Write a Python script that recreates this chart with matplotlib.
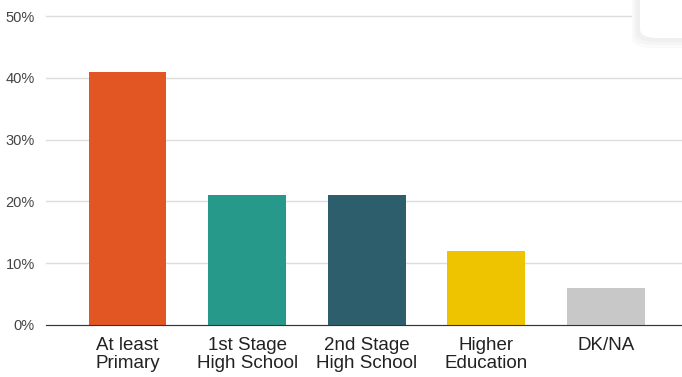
import matplotlib.pyplot as plt
from matplotlib.patches import FancyBboxPatch
from matplotlib.ticker import PercentFormatter

plt.rcParams['font.family'] = ['Liberation Sans', 'DejaVu Sans']

# data
categories = ['At least\nPrimary', '1st Stage\nHigh School', '2nd Stage\nHigh School',
              'Higher\nEducation', 'DK/NA']
shares = [41, 21, 21, 12, 6]
colors = ['#E15622', '#26998B', '#2D5E6B', '#EEC300', '#C8C8C8']

W, H = 682, 377
fig = plt.figure(figsize=(W / 100, H / 100), dpi=100)
ax = fig.add_axes([46 / W, 52 / H, (W - 46) / W, (325 - 16) / H])

x = range(len(categories))
ax.bar(x, shares, width=0.65, color=colors, zorder=3)

ax.set_ylim(0, 50)
ax.set_yticks([0, 10, 20, 30, 40, 50])
ax.yaxis.set_major_formatter(PercentFormatter(decimals=0))
ax.set_xlim(-0.681, 4.636)
ax.set_xticks(list(x))
ax.set_xticklabels(categories, fontsize=13.5, color='#222222', linespacing=1.05)

ax.grid(axis='y', color='#DDDDDD', linewidth=1, zorder=0)
for l in ax.get_ygridlines():
    l.set_clip_on(False)
for s in ['top', 'right', 'left']:
    ax.spines[s].set_visible(False)
ax.spines['bottom'].set_color('#333333')
ax.spines['bottom'].set_zorder(4)
ax.tick_params(axis='y', length=0, labelsize=10.5, labelcolor='#444444', pad=8)
ax.tick_params(axis='x', length=0, pad=9)

# the little rounded box peeking in at the top right corner, soft shadow
for i, c in enumerate(['#FAFAFA', '#F5F5F5', '#F0F0F0']):
    d = 8 - 3 * i
    sh = FancyBboxPatch(((632 + 2 * i) / W, (H - 40 - d) / H), 70 / W, 70 / H,
                        boxstyle='round,pad=0,rounding_size=0.03',
                        transform=fig.transFigure, facecolor=c,
                        edgecolor='none', zorder=5)
    fig.patches.append(sh)
box = FancyBboxPatch((640 / W, (H - 38) / H), 60 / W, 60 / H,
                     boxstyle='round,pad=0,rounding_size=0.025',
                     transform=fig.transFigure, facecolor='white',
                     edgecolor='none', zorder=6)
fig.patches.append(box)

fig.savefig('out.png', dpi=100)
